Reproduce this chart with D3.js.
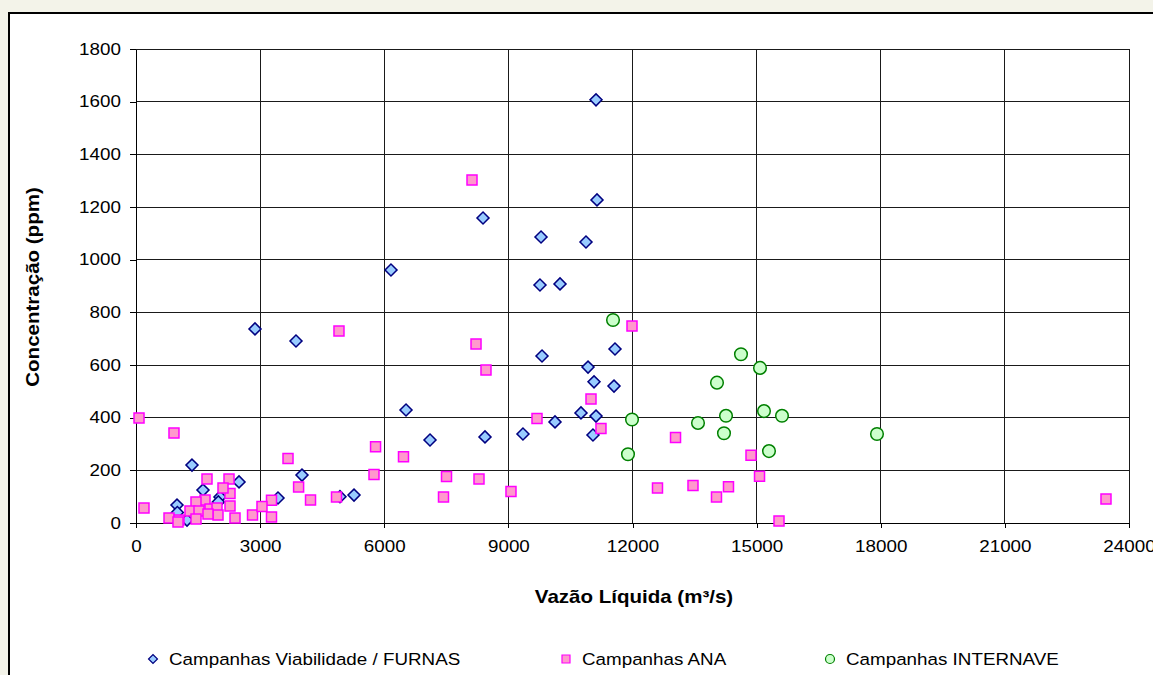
<!DOCTYPE html>
<html>
<head>
<meta charset="utf-8">
<script src="https://cdn.jsdelivr.net/npm/d3@7"></script>
<style>
  html, body { margin: 0; padding: 0; background: #f3f3e9; }
  svg { display: block; font-family: "Liberation Sans", Arial, sans-serif; }
</style>
</head>
<body>
<svg id="chart" width="1153" height="675"></svg>
<script>
// Concentração x Vazão Líquida — three survey series

const xTicks = [0, 3000, 6000, 9000, 12000, 15000, 18000, 21000, 24000];
const yTicks = [0, 200, 400, 600, 800, 1000, 1200, 1400, 1600, 1800];

const seriesNames = ['Campanhas Viabilidade / FURNAS', 'Campanhas ANA', 'Campanhas INTERNAVE'];

// [vazão m³/s, concentração ppm]
const furnas = [
  [11118, 1607], [11142, 1227], [8387, 1158], [9789, 1086], [10876, 1067],
  [6163, 961], [10248, 908], [9764, 904], [2876, 737], [3867, 691],
  [9813, 634], [11577, 661], [10925, 592], [11070, 536], [11553, 520],
  [6526, 429], [10755, 418], [11118, 406], [10127, 384], [7106, 315],
  [9353, 338], [8435, 327], [11045, 334], [1353, 220], [4012, 182],
  [2490, 156], [1619, 125], [991, 68], [2030, 99], [1233, 11],
  [3432, 95], [4930, 100], [5269, 106], [1990, 80], [1000, 40]
];

const ana = [
  [8121, 1303], [4906, 729], [11988, 748], [8218, 680], [8459, 581],
  [73, 399], [918, 342], [10997, 471], [9692, 397], [11238, 359],
  [5790, 290], [3674, 245], [6465, 252], [13040, 325], [14864, 257],
  [5752, 184], [7505, 177], [1716, 167], [2248, 167], [8290, 167],
  [15070, 178], [3930, 137], [2272, 112], [12604, 133], [13462, 142],
  [9063, 120], [14320, 138], [14030, 99], [4846, 99], [7432, 99],
  [23444, 91], [4218, 87], [3275, 86], [193, 57], [15541, 8],
  [798, 19], [1039, 11], [1015, 4], [2393, 19], [2816, 30],
  [3045, 63], [3275, 23], [2103, 133], [1668, 87], [1450, 80],
  [2272, 65], [1305, 46], [1789, 53], [1523, 46], [1958, 57],
  [1982, 30], [1740, 34], [1450, 15]
];

const internave = [
  [11529, 771], [14622, 641], [15082, 589], [14042, 533], [14260, 407],
  [15178, 425], [15613, 407], [11988, 393], [13583, 380], [14211, 341],
  [15299, 273], [11891, 261], [17909, 338]
];

const svg = d3.select('#chart');
const font = '"Liberation Sans", Arial, sans-serif';
const stretch = 1.14; // text in the original is a bit wide

// white chart box with black frame (runs off the right/bottom edge)
svg.append('rect')
  .attr('x', 9).attr('y', 13)
  .attr('width', 1170).attr('height', 700)
  .attr('fill', '#fff')
  .attr('stroke', '#000')
  .attr('stroke-width', 2);

const xScale = d3.scaleLinear().domain([0, 24000]).range([136, 1129]);
const yScale = d3.scaleLinear().domain([0, 1800]).range([523, 49]);

// grid
const grid = svg.append('g').attr('shape-rendering', 'crispEdges');
grid.selectAll('.hgrid')
  .data(yTicks.slice(1))
  .enter().append('line')
  .attr('x1', xScale(0)).attr('x2', xScale(24000))
  .attr('y1', d => yScale(d)).attr('y2', d => yScale(d))
  .attr('stroke', '#1a1a1a');
grid.selectAll('.vgrid')
  .data(xTicks.slice(1))
  .enter().append('line')
  .attr('x1', d => xScale(d)).attr('x2', d => xScale(d))
  .attr('y1', yScale(1800)).attr('y2', yScale(0))
  .attr('stroke', '#1a1a1a');

// axes
const xAxis = svg.append('g')
  .attr('transform', `translate(0,${yScale(0)})`)
  .call(d3.axisBottom(xScale).tickValues(xTicks).tickSize(5).tickPadding(12).tickSizeOuter(0).tickFormat(d3.format('d')));
const yAxis = svg.append('g')
  .attr('transform', `translate(${xScale(0)},0)`)
  .call(d3.axisLeft(yScale).tickValues(yTicks).tickSize(6).tickPadding(7.2).tickSizeOuter(0).tickFormat(d3.format('d')));

[xAxis, yAxis].forEach(ax => {
  ax.attr('shape-rendering', 'crispEdges');
  ax.select('.domain').attr('stroke', '#000');
  ax.selectAll('.tick line').attr('stroke', '#000');
  ax.selectAll('.tick text')
    .attr('fill', '#000')
    .attr('transform', `scale(${stretch},1)`)
    .style('font-family', font)
    .style('font-size', '16.5px');
});

// axis titles
svg.append('text')
  .attr('transform', `translate(634,603) scale(${stretch},1)`)
  .attr('text-anchor', 'middle')
  .style('font-family', font)
  .style('font-size', '18px')
  .style('font-weight', 'bold')
  .text('Vazão Líquida (m³/s)');

svg.append('text')
  .attr('transform', `translate(39,287) rotate(-90) scale(${stretch},1)`)
  .attr('text-anchor', 'middle')
  .style('font-family', font)
  .style('font-size', '18px')
  .style('font-weight', 'bold')
  .text('Concentração (ppm)');

// marks
const diamond = d3.symbol(d3.symbolSquare, 72);
const square = d3.symbol(d3.symbolSquare, 100);

const marks = svg.append('g');

marks.selectAll('.furnas')
  .data(furnas)
  .enter().append('path')
  .attr('class', 'furnas')
  .attr('d', diamond)
  .attr('transform', d => `translate(${xScale(d[0])},${yScale(d[1])}) rotate(45)`)
  .attr('fill', '#99ccff')
  .attr('stroke', '#000080')
  .attr('stroke-width', 1.5);

marks.selectAll('.ana')
  .data(ana)
  .enter().append('path')
  .attr('class', 'ana')
  .attr('d', square)
  .attr('transform', d => `translate(${xScale(d[0])},${yScale(d[1])})`)
  .attr('fill', '#ff99cc')
  .attr('stroke', '#ff00ff')
  .attr('stroke-width', 1.5);

marks.selectAll('.internave')
  .data(internave)
  .enter().append('circle')
  .attr('class', 'internave')
  .attr('cx', d => xScale(d[0]))
  .attr('cy', d => yScale(d[1]))
  .attr('r', 6.3)
  .attr('fill', '#ccffcc')
  .attr('stroke', '#008000')
  .attr('stroke-width', 1.5);

// legend
const legendX = [153, 566, 830];
const legend = svg.append('g')
  .selectAll('g')
  .data(seriesNames)
  .enter().append('g')
  .attr('transform', (d, i) => `translate(${legendX[i]},659)`);

legend.each(function(d, i) {
  const g = d3.select(this);
  if (i === 0) {
    g.append('path').attr('d', d3.symbol(d3.symbolSquare, 40))
      .attr('transform', 'rotate(45)')
      .attr('fill', '#99ccff').attr('stroke', '#000080').attr('stroke-width', 1.2);
  } else if (i === 1) {
    g.append('path').attr('d', d3.symbol(d3.symbolSquare, 64))
      .attr('fill', '#ff99cc').attr('stroke', '#ff00ff').attr('stroke-width', 1.2);
  } else {
    g.append('circle').attr('r', 4.5)
      .attr('fill', '#ccffcc').attr('stroke', '#008000').attr('stroke-width', 1.2);
  }
  g.append('text')
    .attr('transform', `translate(16,0) scale(${stretch},1)`)
    .attr('dy', '0.35em')
    .style('font-family', font)
    .style('font-size', '16.5px')
    .text(d);
});
</script>
</body>
</html>
